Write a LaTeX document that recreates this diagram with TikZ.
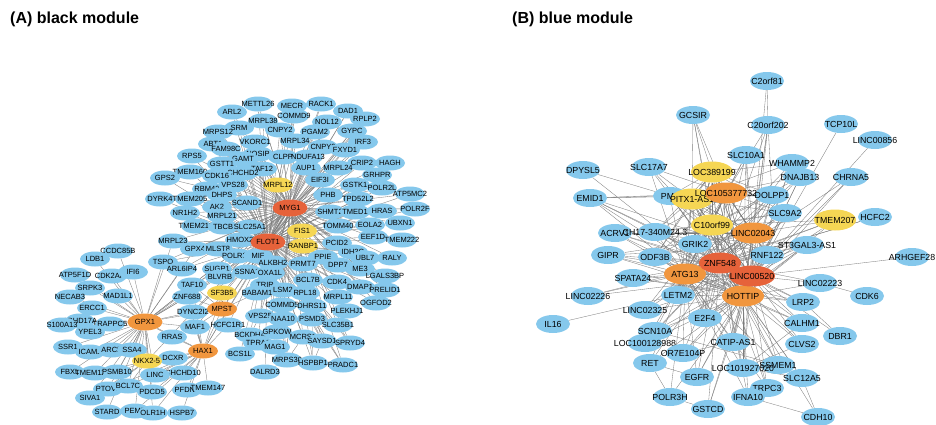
\documentclass[tikz,border=0pt]{standalone}
\usepackage{fontspec}
\setmainfont{Liberation Sans}
\usetikzlibrary{shapes.geometric,backgrounds}
\pgfdeclarelayer{bottom}
\pgfsetlayers{bottom,background,main}
\definecolor{nblue}{RGB}{133,200,236}
\definecolor{nyel}{RGB}{245,214,84}
\definecolor{nora}{RGB}{241,150,62}
\definecolor{nred}{RGB}{230,98,58}
\definecolor{edgec}{RGB}{125,125,125}
\tikzset{
 nbase/.style={ellipse, draw=none, inner sep=0pt, text=black},
 lft/.style={nbase, minimum width=30pt, minimum height=15pt, font=\fontsize{7.5}{8}\selectfont},
 rgt/.style={nbase, minimum width=34pt, minimum height=18pt, font=\fontsize{8.8}{9}\selectfont},
 hub/.style={minimum width=35pt, minimum height=17pt},
 big/.style={minimum width=42pt, minimum height=21pt},
 cb/.style={fill=nblue}, cy/.style={fill=nyel}, co/.style={fill=nora}, cr/.style={fill=nred},
 ed/.style={draw=edgec, line width=0.33pt},
 ttl/.style={font=\fontsize{16}{19}\selectfont\bfseries, anchor=west, inner sep=0pt}
}
\newcommand\nd[5]{\node[#1] (#2) at (#3,#4) {\makebox[0pt]{#5}};}
\begin{document}
\begin{tikzpicture}[x=1pt,y=-1pt]
\begin{pgfonlayer}{bottom}
\fill[white] (0,0) rectangle (936,424);
\end{pgfonlayer}
\useasboundingbox (0,0) rectangle (936,424);
\node[ttl] (ta) at (10,19) {(A) black module};
\node[ttl] (tb) at (512,19) {(B) blue module};
% ---------------- left panel: top cluster
\nd{lft,cb}{arl2}{232}{112}{ARL2}
\nd{lft,cb}{mettl26}{258}{104}{METTL26}
\nd{lft,cb}{mecr}{292}{106}{MECR}
\nd{lft,cb}{commd9}{294}{116}{COMMD9}
\nd{lft,cb}{rack1}{321}{104}{RACK1}
\nd{lft,cb}{dad1}{348}{111}{DAD1}
\nd{lft,cb}{nol12}{327}{122}{NOL12}
\nd{lft,cb}{rplp2}{365}{119}{RPLP2}
\nd{lft,cb}{mrpl38}{263}{121}{MRPL38}
\nd{lft,cb}{srm}{239}{128}{SRM}
\nd{lft,cb}{mrps12}{218}{132}{MRPS12}
\nd{lft,cb}{cnpy2}{280}{130}{CNPY2}
\nd{lft,cb}{pgam2}{315}{132}{PGAM2}
\nd{lft,cb}{gypc}{352}{131}{GYPC}
\nd{lft,cb}{vkorc1}{255}{142}{VKORC1}
\nd{lft,cb}{mrpl34}{295}{141}{MRPL34}
\nd{lft,cb}{irf3}{363}{142}{IRF3}
\nd{lft,cb}{cnpy3}{323}{147}{CNPY3}
\nd{lft,cb}{fxyd1}{345}{150}{FXYD1}
\nd{lft,cb}{abt1}{213}{144}{ABT1}
\nd{lft,cb}{fam98c}{226}{149}{FAM98C}
\nd{lft,cb}{rps5}{192}{156}{RPS5}
\nd{lft,cb}{nosip}{258}{154}{NOSIP}
\nd{lft,cb}{gamt}{243}{159}{GAMT}
\nd{lft,cb}{gstt1}{222}{164}{GSTT1}
\nd{lft,cb}{clpp}{283}{157}{CLPP}
\nd{lft,cb}{ndufa13}{308}{157}{NDUFA13}
\nd{lft,cb}{crip2}{362}{163}{CRIP2}
\nd{lft,cb}{hagh}{390}{163}{HAGH}
\nd{lft,cb}{mrpl24}{338}{168}{MRPL24}
\nd{lft,cb}{tmem160}{190}{172}{TMEM160}
\nd{lft,cb}{taf12}{262}{169}{TAF12}
\nd{lft,cb}{chchd2}{243}{173}{CHCHD2}
\nd{lft,cb}{cdk16}{217}{176}{CDK16}
\nd{lft,cb}{aup1}{306}{168}{AUP1}
\nd{lft,cb}{grhpr}{377}{175}{GRHPR}
\nd{lft,cb}{eif3i}{320}{180}{EIF3I}
\nd{lft,cb}{gps2}{165}{178}{GPS2}
\nd{lft,cb}{rbm42}{207}{189}{RBM42}
\nd{lft,cb}{vps28}{233}{185}{VPS28}
\nd{lft,cb}{gstk1}{355}{185}{GSTK1}
\nd{lft,cb}{polr2l}{382}{188}{POLR2L}
\nd{lft,cb}{atp5mc2}{410}{194}{ATP5MC2}
\nd{lft,cb}{phb}{328}{195}{PHB}
\nd{lft,cb}{tpd52l2}{358}{199}{TPD52L2}
\nd{lft,cb}{dyrk4}{160}{199}{DYRK4}
\nd{lft,cb}{tmem205}{190}{199}{TMEM205}
\nd{lft,cb}{dhps}{222}{195}{DHPS}
\nd{lft,cb}{ak2}{217}{207}{AK2}
\nd{lft,cb}{scand1}{247}{203}{SCAND1}
\nd{lft,cb}{hras}{382}{211}{HRAS}
\nd{lft,cb}{polr2f}{415}{209}{POLR2F}
\nd{lft,cb}{shmt2}{330}{212}{SHMT2}
\nd{lft,cb}{tmed1}{355}{212}{TMED1}
\nd{lft,cb}{nr1h2}{185}{213}{NR1H2}
\nd{lft,cb}{mrpl21}{222}{216}{MRPL21}
\nd{lft,cb}{ubxn1}{400}{223}{UBXN1}
\nd{lft,cb}{tomm40}{338}{226}{TOMM40}
\nd{lft,cb}{eola2}{370}{225}{EOLA2}
\nd{lft,cb}{tmem219}{196}{226}{TMEM219}
\nd{lft,cb}{tbcb}{223}{227}{TBCB}
\nd{lft,cb}{slc25a1}{250}{227}{SLC25A1}
\nd{lft,cb}{eef1d}{373}{237}{EEF1D}
\nd{lft,cb}{tmem222}{402}{240}{TMEM222}
\nd{lft,cb}{mrpl23}{173}{241}{MRPL23}
\nd{lft,cb}{hmox2}{240}{240}{HMOX2}
\nd{lft,cb}{pcid2}{337}{243}{PCID2}
\nd{lft,cb}{gpx4}{195}{249}{GPX4}
\nd{lft,cb}{mlst8}{218}{249}{MLST8}
\nd{lft,cb}{polr3k}{237}{256}{POLR3K}
\nd{lft,cb}{mif}{258}{256}{MIF}
\nd{lft,cb}{idh3g}{353}{252}{IDH3G}
\nd{lft,cb}{ubl7}{365}{258}{UBL7}
\nd{lft,cb}{raly}{392}{258}{RALY}
\nd{lft,cb}{ppie}{323}{257}{PPIE}
\nd{lft,cb}{tspo}{163}{262}{TSPO}
\nd{lft,cb}{alkbh2}{273}{263}{ALKBH2}
\nd{lft,cb}{prmt7}{303}{264}{PRMT7}
\nd{lft,cb}{dpp7}{338}{265}{DPP7}
\nd{lft,cb}{me3}{360}{269}{ME3}
\nd{lft,cb}{arl6ip4}{182}{269}{ARL6IP4}
\nd{lft,cb}{sugp1}{217}{269}{SUGP1}
\nd{lft,cb}{ssna1}{247}{272}{SSNA1}
\nd{lft,cb}{oxa1l}{270}{273}{OXA1L}
\nd{lft,cb}{lgals3bp}{385}{276}{LGALS3BP}
\nd{lft,cb}{blvrb}{220}{277}{BLVRB}
\nd{lft,cb}{bcl7b}{308}{280}{BCL7B}
\nd{lft,cb}{cdk4}{337}{282}{CDK4}
\nd{lft,cb}{taf10}{192}{285}{TAF10}
\nd{lft,cb}{trir}{265}{285}{TRIR}
\nd{lft,cb}{dmap1}{360}{287}{DMAP1}
\nd{lft,cb}{prelid1}{385}{290}{PRELID1}
\nd{lft,cb}{lsm2}{283}{290}{LSM2}
\nd{lft,cb}{babam1}{257}{293}{BABAM1}
\nd{lft,cb}{rpl18}{305}{293}{RPL18}
\nd{lft,cb}{mrpl11}{338}{297}{MRPL11}
\nd{lft,cb}{znf688}{187}{297}{ZNF688}
\nd{lft,cb}{ogfod2}{376}{303}{OGFOD2}
\nd{lft,cb}{commd5}{282}{305}{COMMD5}
\nd{lft,cb}{dhrs11}{312}{306}{DHRS11}
\nd{lft,cb}{dync2i2}{193}{312}{DYNC2I2}
\nd{lft,cb}{plekhj1}{347}{311}{PLEKHJ1}
\nd{lft,cb}{vps25}{260}{316}{VPS25}
\nd{lft,cb}{naa10}{283}{319}{NAA10}
\nd{lft,cb}{psmd3}{312}{319}{PSMD3}
\nd{lft,cb}{slc35b1}{338}{325}{SLC35B1}
\nd{lft,cb}{maf1}{195}{327}{MAF1}
\nd{lft,cb}{hcfc1r1}{228}{325}{HCFC1R1}
\nd{lft,cb}{bckdha}{250}{335}{BCKDHA}
\nd{lft,cb}{gpkow}{277}{332}{GPKOW}
\nd{lft,cb}{mcrs1}{303}{337}{MCRS1}
\nd{lft,cb}{saysd1}{322}{341}{SAYSD1}
\nd{lft,cb}{spryd4}{350}{343}{SPRYD4}
\nd{lft,cb}{rras}{172}{337}{RRAS}
\nd{lft,cb}{tpra1}{258}{343}{TPRA1}
\nd{lft,cb}{mag1}{275}{347}{MAG1}
\nd{lft,cb}{dcxr}{173}{358}{DCXR}
\nd{lft,cb}{bcs1l}{240}{354}{BCS1L}
\nd{lft,cb}{mrps30}{287}{360}{MRPS30}
\nd{lft,cb}{hspbp1}{313}{363}{HSPBP1}
\nd{lft,cb}{pradc1}{343}{365}{PRADC1}
\nd{lft,cb}{dalrd3}{265}{372}{DALRD3}
\nd{lft,cb}{chchd10}{183}{373}{CHCHD10}
\nd{lft,cb}{pfdn1}{187}{390}{PFDN1}
\nd{lft,cb}{tmem147}{208}{388}{TMEM147}
\nd{lft,cb}{hspb7}{182}{413}{HSPB7}
% GPX1 cluster
\nd{lft,cb}{ccdc85b}{118}{251}{CCDC85B}
\nd{lft,cb}{ldb1}{95}{259}{LDB1}
\nd{lft,cb}{atp5f1d}{75}{275}{ATP5F1D}
\nd{lft,cb}{cdk2ap2}{112}{276}{CDK2AP2}
\nd{lft,cb}{ifi6}{133}{272}{IFI6}
\nd{lft,cb}{srpk3}{90}{288}{SRPK3}
\nd{lft,cb}{mad1l1}{118}{296}{MAD1L1}
\nd{lft,cb}{necab3}{70}{297}{NECAB3}
\nd{lft,cb}{ercc1}{92}{308}{ERCC1}
\nd{lft,cb}{abhd17a}{80}{321}{ABHD17A}
\nd{lft,cb}{s100a13}{62}{325}{S100A13}
\nd{lft,cb}{trappc5}{110}{324}{TRAPPC5}
\nd{lft,cb}{ypel3}{90}{332}{YPEL3}
\nd{lft,cb}{ssr1}{68}{347}{SSR1}
\nd{lft,cb}{icam2}{90}{352}{ICAM2}
\nd{lft,cb}{arcd}{112}{350}{ARCD}
\nd{lft,cb}{ssa4}{132}{350}{SSA4}
\nd{lft,cb}{fbxl}{70}{372}{FBXL}
\nd{lft,cb}{tmem120a}{95}{373}{TMEM120A}
\nd{lft,cb}{psmb10}{117}{372}{PSMB10}
\nd{lft,cb}{linc}{155}{375}{LINC}
\nd{lft,cb}{siva1}{90}{398}{SIVA1}
\nd{lft,cb}{ptov1}{108}{389}{PTOV1}
\nd{lft,cb}{bcl7c}{128}{386}{BCL7C}
\nd{lft,cb}{pdcd5}{152}{392}{PDCD5}
\nd{lft,cb}{stard}{107}{412}{STARD}
\nd{lft,cb}{pemt}{135}{411}{PEMT}
\nd{lft,cb}{olr1h}{153}{413}{OLR1H}
% coloured left nodes
\nd{lft,cy}{mrpl12}{278}{185}{MRPL12}
\nd{lft,cy}{fis1}{302}{231}{FIS1}
\nd{lft,cy}{ranbp1}{303}{246}{RANBP1}
\nd{lft,cy}{sf3b5}{222}{293}{SF3B5}
\nd{lft,cy}{nkx25}{147}{361}{NKX2-5}
\nd{lft,co}{mpst}{222}{309}{MPST}
\nd{lft,co}{hax1}{203}{351}{HAX1}
\nd{lft,co,hub}{gpx1}{145}{322}{GPX1}
\nd{lft,cr,hub}{myg1}{290}{208}{MYG1}
\nd{lft,cr,hub}{flot1}{268}{242}{FLOT1}
% ---------------- right panel
\nd{rgt,cb}{c2orf81}{767}{81}{C2orf81}
\nd{rgt,cb}{gcsir}{693}{115}{GCSIR}
\nd{rgt,cb}{c20orf202}{768}{125}{C20orf202}
\nd{rgt,cb}{tcp10l}{841}{124}{TCP10L}
\nd{rgt,cb}{linc00856}{875}{140}{LINC00856}
\nd{rgt,cb}{slc10a1}{746}{155}{SLC10A1}
\nd{rgt,cb}{whammp2}{792}{163}{WHAMMP2}
\nd{rgt,cb}{dpysl5}{583}{170}{DPYSL5}
\nd{rgt,cb}{slc17a7}{649}{167}{SLC17A7}
\nd{rgt,cb}{chrna5}{851}{177}{CHRNA5}
\nd{rgt,cb}{dnajb13}{800}{177}{DNAJB13}
\nd{rgt,cb}{dolpp1}{772}{195}{DOLPP1}
\nd{rgt,cb}{emid1}{590}{198}{EMID1}
\nd{rgt,cb}{pml}{670}{196}{PML}
\nd{rgt,cb}{slc9a2}{785}{213}{SLC9A2}
\nd{rgt,cb}{hcfc2}{875}{217}{HCFC2}
\nd{rgt,cb}{acrv1}{615}{233}{ACRV1}
\nd{rgt,cb}{ch17}{655}{232}{CH17-340M24.3}
\nd{rgt,cb}{grik2}{695}{244}{GRIK2}
\nd{rgt,cb}{st3gal3}{807}{245}{ST3GAL3-AS1}
\nd{rgt,cb}{gipr}{608}{255}{GIPR}
\nd{rgt,cb}{odf3b}{655}{257}{ODF3B}
\nd{rgt,cb}{rnf122}{767}{255}{RNF122}
\nd{rgt,cb}{arhgef28}{912}{257}{ARHGEF28}
\nd{rgt,cb}{spata24}{633}{278}{SPATA24}
\nd{rgt,cb}{linc02223}{820}{283}{LINC02223}
\nd{rgt,cb}{letm2}{678}{295}{LETM2}
\nd{rgt,cb}{linc02226}{588}{296}{LINC02226}
\nd{rgt,cb}{cdk6}{867}{296}{CDK6}
\nd{rgt,cb}{lrp2}{803}{302}{LRP2}
\nd{rgt,cb}{linc02325}{645}{310}{LINC02325}
\nd{rgt,cb}{e2f4}{705}{318}{E2F4}
\nd{rgt,cb}{calhm1}{802}{323}{CALHM1}
\nd{rgt,cb}{il16}{553}{324}{IL16}
\nd{rgt,cb}{scn10a}{655}{331}{SCN10A}
\nd{rgt,cb}{dbr1}{840}{336}{DBR1}
\nd{rgt,cb}{catip}{733}{342}{CATIP-AS1}
\nd{rgt,cb}{loc100}{645}{343}{LOC100128988}
\nd{rgt,cb}{clvs2}{802}{344}{CLVS2}
\nd{rgt,cb}{or7e}{683}{353}{OR7E104P}
\nd{rgt,cb}{ret}{650}{363}{RET}
\nd{rgt,cb}{ssmem1}{778}{365}{SSMEM1}
\nd{rgt,cb}{loc101}{743}{368}{LOC101927020}
\nd{rgt,cb}{slc12a5}{802}{378}{SLC12A5}
\nd{rgt,cb}{egfr}{697}{377}{EGFR}
\nd{rgt,cb}{trpc3}{767}{388}{TRPC3}
\nd{rgt,cb}{polr3h}{670}{397}{POLR3H}
\nd{rgt,cb}{ifna10}{748}{397}{IFNA10}
\nd{rgt,cb}{gstcd}{708}{409}{GSTCD}
\nd{rgt,cb}{cdh10}{818}{417}{CDH10}
\nd{rgt,cy,big}{loc389}{712}{172}{LOC389199}
\nd{rgt,cy,big}{pitx1}{692}{199}{PITX1-AS1}
\nd{rgt,cy,big}{c10orf99}{712}{225}{C10orf99}
\nd{rgt,cy,big}{tmem207}{835}{220}{TMEM207}
\nd{rgt,co,big}{loc105}{726}{193}{LOC105377732}
\nd{rgt,co,big}{linc02043}{753}{233}{LINC02043}
\nd{rgt,co,big}{atg13}{685}{274}{ATG13}
\nd{rgt,co,big}{hottip}{743}{296}{HOTTIP}
\nd{rgt,cr,big}{znf548}{720}{263}{ZNF548}
\nd{rgt,cr,big,minimum width=46pt}{linc00520}{752}{276}{LINC00520}
% ---------------- edges
\begin{pgfonlayer}{background}
\foreach \b in {arl2,mettl26,mecr,commd9,rack1,dad1,nol12,rplp2,mrpl38,srm,mrps12,cnpy2,pgam2,gypc,vkorc1,mrpl34,cnpy3,irf3,fxyd1,abt1,fam98c,rps5,gstt1,gamt,nosip,clpp,ndufa13,mrpl24,crip2,hagh,tmem160,cdk16,chchd2,taf12,aup1,eif3i,grhpr,gps2,rbm42,vps28,mrpl12,gstk1,polr2l,atp5mc2,phb,tpd52l2,dyrk4,tmem205,dhps,ak2,scand1,hras,polr2f,shmt2,tmed1,nr1h2,mrpl21,ubxn1,tomm40,eola2,tmem219,tbcb,slc25a1,fis1,eef1d,tmem222,mrpl23,hmox2,ranbp1,pcid2,gpx4,mlst8,polr3k,mif,idh3g,ubl7,raly,ppie,tspo,alkbh2,prmt7,dpp7,me3,arl6ip4,sugp1,ssna1,oxa1l,lgals3bp,blvrb,bcl7b,cdk4,taf10,trir,dmap1,prelid1,lsm2,babam1,rpl18,mrpl11,ogfod2,commd5,dhrs11,flot1}
  {\draw[ed] (myg1) -- (\b); \draw[ed] (flot1) -- (\b);}
\foreach \b in {vps25,naa10,psmd3,slc35b1,plekhj1,gpkow,mcrs1,saysd1,spryd4,tpra1,mag1,bcs1l,mrps30,hspbp1,pradc1,dalrd3,bckdha,hcfc1r1,maf1,dync2i2,znf688,mpst,sf3b5}
  {\draw[ed] (flot1) -- (\b);}
\foreach \b in {vps25,naa10,psmd3,slc35b1,plekhj1,mcrs1,saysd1,spryd4,mrps30,hspbp1,pradc1,gpkow}
  {\draw[ed] (myg1) -- (\b);}
\foreach \b in {ccdc85b,ldb1,atp5f1d,cdk2ap2,ifi6,srpk3,mad1l1,necab3,ercc1,abhd17a,s100a13,trappc5,ypel3,ssr1,icam2,arcd,ssa4,nkx25,fbxl,tmem120a,psmb10,linc,siva1,ptov1,bcl7c,pdcd5,stard,pemt,olr1h,tspo,arl6ip4,taf10,znf688,dync2i2,maf1,rras,hax1,gpx4,mrpl23,mpst,myg1,flot1,sugp1,blvrb}
  {\draw[ed] (gpx1) -- (\b);}
\foreach \b in {maf1,rras,dcxr,chchd10,tmem147,pfdn1,linc,hspb7,pdcd5,olr1h,bcl7c,mpst,sf3b5,hcfc1r1,dync2i2,nkx25,znf688,taf10,ptov1,pemt,myg1,flot1}
  {\draw[ed] (hax1) -- (\b);}
\foreach \b in {taf10,znf688,sf3b5,babam1,hcfc1r1,maf1,dync2i2,blvrb,sugp1,myg1}
  {\draw[ed] (mpst) -- (\b);}
\foreach \b in {psmb10,linc,tmem120a,bcl7c,ptov1,siva1,ssa4,myg1}
  {\draw[ed] (nkx25) -- (\b);}
\foreach \a/\b in {vps25/bckdha,naa10/gpkow,psmd3/saysd1,slc35b1/spryd4,mrps30/dalrd3,psmd3/pradc1,saysd1/hspbp1,plekhj1/slc35b1,mcrs1/mrps30,tpra1/bcs1l,gpkow/mag1,naa10/mrps30,psmd3/hspbp1}
  {\draw[ed] (\a) -- (\b);}
% right panel
\foreach \a in {znf548,linc00520,atg13,hottip,linc02043,loc105,loc389,pitx1,c10orf99}
  \foreach \b in {znf548,linc00520,atg13,hottip,linc02043,loc105,loc389,pitx1,c10orf99}
    {\draw[ed] (\a) -- (\b);}
\foreach \a in {pml,dolpp1,slc9a2,grik2,odf3b,rnf122,letm2,e2f4,ch17}
  \foreach \b in {znf548,linc00520,atg13,hottip,linc02043,loc105,loc389,pitx1,c10orf99}
    {\draw[ed] (\a) -- (\b);}
\foreach \a/\bs in {c2orf81/{c20orf202,linc02043},
  gcsir/{loc389,pitx1,c10orf99,znf548,loc105},
  c20orf202/{linc00520,hottip,znf548,linc02043,loc105,dolpp1},
  tcp10l/{hottip},linc00856/{linc00520},
  slc10a1/{znf548,atg13,hottip,linc02043,loc105,linc00520},
  whammp2/{znf548,atg13,hottip,linc00520,pitx1,loc389},
  dpysl5/{pml,hottip},
  slc17a7/{pitx1,loc105,znf548,atg13,linc00520},
  chrna5/{hottip,linc00520,znf548},
  dnajb13/{znf548,atg13,hottip,linc00520,c10orf99,pitx1},
  emid1/{pml,znf548,atg13,hottip,linc00520,loc105,rnf122,dolpp1},
  hcfc2/{znf548,atg13},
  tmem207/{linc00520,znf548,hottip,atg13,linc02043,c10orf99},
  acrv1/{znf548,atg13,linc00520,hottip,st3gal3,linc02043},
  ch17/{slc9a2},
  st3gal3/{znf548,atg13,hottip,linc00520,letm2,e2f4,gipr},
  gipr/{znf548,atg13,linc00520,hottip,linc02043},
  arhgef28/{linc00520},
  spata24/{znf548,atg13,hottip,linc00520,lrp2},
  linc02223/{linc00520,hottip,znf548},
  linc02226/{atg13,znf548,linc00520},
  cdk6/{linc02223},
  lrp2/{znf548,atg13,hottip,linc00520,dbr1},
  linc02325/{znf548,atg13,hottip,linc00520,c10orf99},
  calhm1/{znf548,atg13,hottip,linc00520,loc101},
  il16/{letm2},
  scn10a/{znf548,atg13,hottip,linc00520,ssmem1},
  dbr1/{linc00520},
  catip/{znf548,atg13,hottip,linc00520,linc02043,loc105},
  loc100/{znf548,atg13,hottip,linc00520},
  clvs2/{znf548,hottip,linc00520,loc101},
  or7e/{znf548,atg13,hottip,linc00520,catip},
  ret/{znf548,atg13,hottip,polr3h,egfr},
  ssmem1/{znf548,atg13,hottip,linc00520},
  loc101/{znf548,atg13,hottip,linc00520,linc02043},
  slc12a5/{znf548,hottip,cdh10,loc101},
  egfr/{znf548,atg13,hottip,linc00520},
  trpc3/{znf548,hottip,atg13,linc00520},
  polr3h/{atg13,hottip,gstcd},
  ifna10/{znf548,hottip,atg13},
  gstcd/{znf548,hottip,linc00520},
  cdh10/{hottip,ifna10}}
  {\foreach \b in \bs {\draw[ed] (\a) -- (\b);}}
\end{pgfonlayer}
\end{tikzpicture}
\end{document}
